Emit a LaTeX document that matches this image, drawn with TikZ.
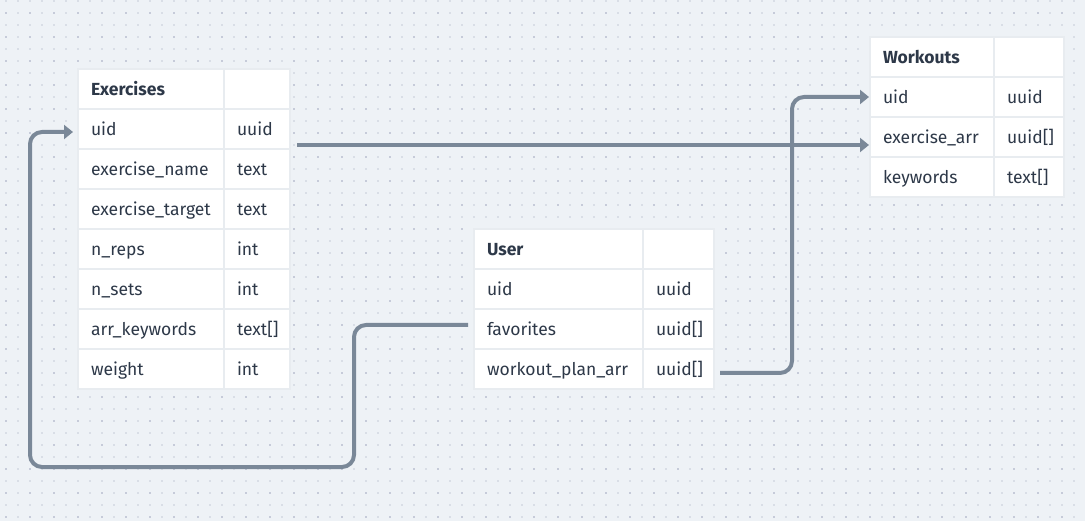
\documentclass[tikz,border=0pt]{standalone}
\usepackage{fontspec}
\setmainfont{Fira Sans}
\usetikzlibrary{arrows.meta}
\definecolor{tausta}{HTML}{EEF2F6}
\definecolor{piste}{HTML}{D9DEE6}
\definecolor{piste2}{HTML}{C6CBD9}
\definecolor{raja}{HTML}{E8ECF0}
\definecolor{teksti}{HTML}{2D3848}
\definecolor{viiva}{HTML}{7A8898}
\tikzset{
  solu/.style={draw=raja, line width=2pt, fill=white, anchor=north west,
    outer sep=0pt, inner xsep=13pt, inner ysep=0pt, minimum height=40pt,
    text height=15pt, text depth=2.5pt,
    align=left, text=teksti, font=\fontsize{17.5}{20}\selectfont},
  linkki/.style={draw=viiva, line width=4pt, rounded corners=12pt,
    -{Triangle[length=9pt,width=14pt]}},
}
\begin{document}
\begin{tikzpicture}[x=1pt,y=-1pt]
\newcommand\rivi[7]{
\node[solu, text width=#6pt] (#1) at (#2,#3) {#4};
\node[solu, text width=#7pt] (#1-t) at (#1.north east) {#5};
}
\useasboundingbox (0,0) rectangle (1085,521);
\fill[tausta] (0,0) rectangle (1085,521);
% dot grid
\foreach \i in {6,18,...,1085}
  \foreach \j in {1,13,...,521}
    \fill[piste] (\i-1,\j-1) rectangle ++(2,2);
\foreach \i in {6,30,...,1085}
  \foreach \j in {13,37,...,521}
    \fill[piste2] (\i-1,\j-1) rectangle ++(2,2);
% Exercises
\rivi{ex}{78}{69}{\textbf{Exercises}}{}{120}{40}
\rivi{ex-uid}{78}{109}{uid}{uuid}{120}{40}
\rivi{ex-name}{78}{149}{exercise\_name}{text}{120}{40}
\rivi{ex-target}{78}{189}{exercise\_target}{text}{120}{40}
\rivi{ex-reps}{78}{229}{n\_reps}{int}{120}{40}
\rivi{ex-sets}{78}{269}{n\_sets}{int}{120}{40}
\rivi{ex-kw}{78}{309}{arr\_keywords}{text[]}{120}{40}
\rivi{ex-weight}{78}{349}{weight}{int}{120}{40}
% User
\rivi{us}{474}{229}{\textbf{User}}{}{143}{45}
\rivi{us-uid}{474}{269}{uid}{uuid}{143}{45}
\rivi{us-fav}{474}{309}{favorites}{uuid[]}{143}{45}
\rivi{us-plan}{474}{349}{workout\_plan\_arr}{uuid[]}{143}{45}
% Workouts
\rivi{wk}{870}{37}{\textbf{Workouts}}{}{98}{44}
\rivi{wk-uid}{870}{77}{uid}{uuid}{98}{44}
\rivi{wk-arr}{870}{117}{exercise\_arr}{uuid[]}{98}{44}
\rivi{wk-kw}{870}{157}{keywords}{text[]}{98}{44}
% links
\path[linkki] ([xshift=7pt,yshift=-16pt]ex-uid-t.east) -- ([xshift=-1pt,yshift=-8pt]wk-arr.west);
\path[linkki] ([xshift=-6pt,yshift=4pt]us-fav.west) -- ++(-114,0) -- ++(0,142) -- ++(-324,0)
  |- ([xshift=-5pt,yshift=-3pt]ex-uid.west);
\path[linkki] ([xshift=6pt,yshift=-4pt]us-plan-t.east) -- ++(72,0) |- ([xshift=-1pt]wk-uid.west);
\end{tikzpicture}
\end{document}
